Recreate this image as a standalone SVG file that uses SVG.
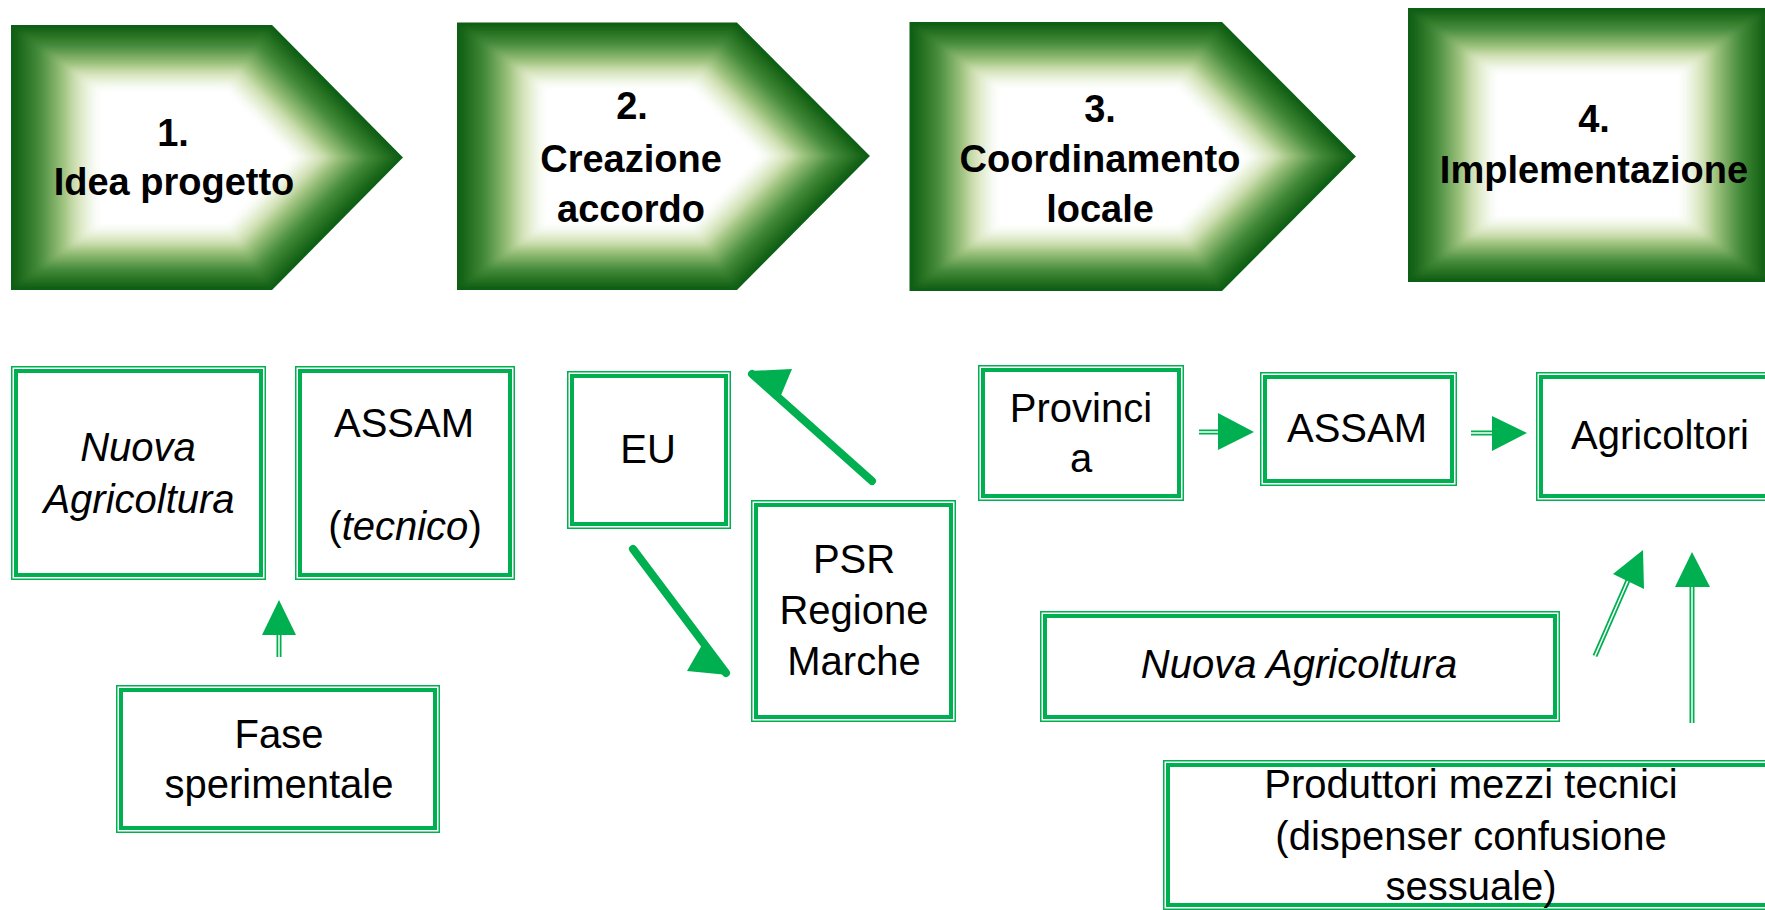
<svg xmlns="http://www.w3.org/2000/svg" xmlns:xlink="http://www.w3.org/1999/xlink" width="1765" height="910" viewBox="0 0 1765 910">
<style>
.o{fill:#fff;stroke:#00b050;stroke-width:1.5}
.i{fill:none;stroke:#00b050;stroke-width:4}
.t{font-family:"Liberation Sans",Arial,sans-serif;font-size:40px;fill:#000;text-anchor:middle}
.it{font-style:italic}
.h{font-family:"Liberation Sans",Arial,sans-serif;font-size:38px;font-weight:bold;fill:#000;text-anchor:middle}
.f{fill:#fff;stroke:none}
.bv use{fill:none;stroke-linejoin:miter}
.b1{stroke:#0f5f12;stroke-width:8}
.b2{stroke:#1a681b;stroke-width:16}
.b3{stroke:#267224;stroke-width:24}
.b4{stroke:#317b2c;stroke-width:32}
.b5{stroke:#3d8435;stroke-width:40}
.b6{stroke:#4a8f3f;stroke-width:48}
.b7{stroke:#5e9b4e;stroke-width:56}
.b8{stroke:#72a85d;stroke-width:64}
.b9{stroke:#86b46c;stroke-width:72}
.b10{stroke:#9ac17c;stroke-width:80}
.b11{stroke:#b0cd90;stroke-width:88}
.b12{stroke:#c7dbac;stroke-width:96}
.b13{stroke:#d8e5be;stroke-width:104}
.b14{stroke:#e3edd0;stroke-width:112}
.b15{stroke:#eef5e5;stroke-width:120}
.b16{stroke:#f8fbf4;stroke-width:128}
.sh{stroke:#00b050;stroke-width:5;fill:none}
.sw{stroke:#fff;stroke-width:1.5;fill:none}
.th{stroke:#00b050;stroke-width:8;stroke-linecap:round;fill:none}
.ah{fill:#00b050;stroke:none}
</style>
<defs>
<filter id="sm" x="-10%" y="-10%" width="120%" height="120%"><feGaussianBlur stdDeviation="2.2"/></filter>
<polygon id="p1" points="8.15,25 201.5,25 298.5,157.5 201.5,290 8.15,290"/>
<polygon id="p2" points="338.5,22.5 545.9,22.5 644.4,156 545.9,290 338.5,290"/>
<polygon id="p3" points="673.7,22 905.2,22 1004.4,156.5 905.2,291 673.7,291"/>
<polygon id="p4" points="1043,8 1309.6,8 1309.6,282 1043,282"/>
<clipPath id="c1"><use xlink:href="#p1"/></clipPath>
<clipPath id="c2"><use xlink:href="#p2"/></clipPath>
<clipPath id="c3"><use xlink:href="#p3"/></clipPath>
<clipPath id="c4"><use xlink:href="#p4"/></clipPath>
</defs>
<rect width="1765" height="910" fill="#fff"/>

<g id="step1">
<g transform="scale(1.35,1)" clip-path="url(#c1)">
<g class="bv" filter="url(#sm)">
<use xlink:href="#p1" class="f"/>
<use xlink:href="#p1" class="b16"/><use xlink:href="#p1" class="b15"/><use xlink:href="#p1" class="b14"/><use xlink:href="#p1" class="b13"/>
<use xlink:href="#p1" class="b12"/><use xlink:href="#p1" class="b11"/><use xlink:href="#p1" class="b10"/><use xlink:href="#p1" class="b9"/>
<use xlink:href="#p1" class="b8"/><use xlink:href="#p1" class="b7"/><use xlink:href="#p1" class="b6"/><use xlink:href="#p1" class="b5"/>
<use xlink:href="#p1" class="b4"/><use xlink:href="#p1" class="b3"/><use xlink:href="#p1" class="b2"/><use xlink:href="#p1" class="b1"/>
</g>
</g>
<text class="h" x="173" y="146">1.</text>
<text class="h" x="174" y="195">Idea progetto</text>
</g>

<g id="step2">
<g transform="scale(1.35,1)" clip-path="url(#c2)">
<g class="bv" filter="url(#sm)">
<use xlink:href="#p2" class="f"/>
<use xlink:href="#p2" class="b16"/><use xlink:href="#p2" class="b15"/><use xlink:href="#p2" class="b14"/><use xlink:href="#p2" class="b13"/>
<use xlink:href="#p2" class="b12"/><use xlink:href="#p2" class="b11"/><use xlink:href="#p2" class="b10"/><use xlink:href="#p2" class="b9"/>
<use xlink:href="#p2" class="b8"/><use xlink:href="#p2" class="b7"/><use xlink:href="#p2" class="b6"/><use xlink:href="#p2" class="b5"/>
<use xlink:href="#p2" class="b4"/><use xlink:href="#p2" class="b3"/><use xlink:href="#p2" class="b2"/><use xlink:href="#p2" class="b1"/>
</g>
</g>
<text class="h" x="632" y="119">2.</text>
<text class="h" x="631" y="172">Creazione</text>
<text class="h" x="631" y="222">accordo</text>
</g>

<g id="step3">
<g transform="scale(1.35,1)" clip-path="url(#c3)">
<g class="bv" filter="url(#sm)">
<use xlink:href="#p3" class="f"/>
<use xlink:href="#p3" class="b16"/><use xlink:href="#p3" class="b15"/><use xlink:href="#p3" class="b14"/><use xlink:href="#p3" class="b13"/>
<use xlink:href="#p3" class="b12"/><use xlink:href="#p3" class="b11"/><use xlink:href="#p3" class="b10"/><use xlink:href="#p3" class="b9"/>
<use xlink:href="#p3" class="b8"/><use xlink:href="#p3" class="b7"/><use xlink:href="#p3" class="b6"/><use xlink:href="#p3" class="b5"/>
<use xlink:href="#p3" class="b4"/><use xlink:href="#p3" class="b3"/><use xlink:href="#p3" class="b2"/><use xlink:href="#p3" class="b1"/>
</g>
</g>
<text class="h" x="1100" y="122">3.</text>
<text class="h" x="1100" y="172">Coordinamento</text>
<text class="h" x="1100" y="222">locale</text>
</g>

<g id="step4">
<g transform="scale(1.35,1)" clip-path="url(#c4)">
<g class="bv" filter="url(#sm)">
<use xlink:href="#p4" class="f"/>
<use xlink:href="#p4" class="b16"/><use xlink:href="#p4" class="b15"/><use xlink:href="#p4" class="b14"/><use xlink:href="#p4" class="b13"/>
<use xlink:href="#p4" class="b12"/><use xlink:href="#p4" class="b11"/><use xlink:href="#p4" class="b10"/><use xlink:href="#p4" class="b9"/>
<use xlink:href="#p4" class="b8"/><use xlink:href="#p4" class="b7"/><use xlink:href="#p4" class="b6"/><use xlink:href="#p4" class="b5"/>
<use xlink:href="#p4" class="b4"/><use xlink:href="#p4" class="b3"/><use xlink:href="#p4" class="b2"/><use xlink:href="#p4" class="b1"/>
</g>
</g>
<text class="h" x="1594" y="132">4.</text>
<text class="h" x="1594" y="183">Implementazione</text>
</g>

<g id="nuova-agricoltura-1">
<rect class="o" x="11.75" y="366.75" width="253.5" height="212.5"/>
<rect class="i" x="16" y="371" width="245" height="204"/>
<text class="t it" x="138" y="461">Nuova</text>
<text class="t it" x="139" y="513">Agricoltura</text>
</g>

<g id="assam-tecnico">
<rect class="o" x="295.75" y="366.75" width="218.5" height="212.5"/>
<rect class="i" x="300" y="371" width="210" height="204"/>
<text class="t" x="404" y="437">ASSAM</text>
<text class="t" x="405" y="540">(<tspan class="it">tecnico</tspan>)</text>
</g>

<g id="fase-sperimentale">
<rect class="o" x="116.75" y="685.75" width="322.5" height="146.5"/>
<rect class="i" x="121" y="690" width="314" height="138"/>
<text class="t" x="279" y="748">Fase</text>
<text class="t" x="279" y="798">sperimentale</text>
</g>

<g id="eu">
<rect class="o" x="567.75" y="371.75" width="162.5" height="156.5"/>
<rect class="i" x="572" y="376" width="154" height="148"/>
<text class="t" x="648" y="463">EU</text>
</g>

<g id="psr">
<rect class="o" x="751.75" y="500.75" width="203.5" height="220.5"/>
<rect class="i" x="756" y="505" width="195" height="212"/>
<text class="t" x="854" y="573">PSR</text>
<text class="t" x="854" y="624">Regione</text>
<text class="t" x="854" y="675">Marche</text>
</g>

<g id="provincia">
<rect class="o" x="978.75" y="365.75" width="204.5" height="134.5"/>
<rect class="i" x="983" y="370" width="196" height="126"/>
<text class="t" x="1081" y="422">Provinci</text>
<text class="t" x="1081" y="472">a</text>
</g>

<g id="assam">
<rect class="o" x="1260.75" y="372.75" width="195.5" height="112.5"/>
<rect class="i" x="1265" y="377" width="187" height="104"/>
<text class="t" x="1357" y="442">ASSAM</text>
</g>

<g id="agricoltori">
<rect class="o" x="1536.75" y="372.75" width="258.5" height="127.5"/>
<rect class="i" x="1541" y="377" width="250" height="119"/>
<text class="t" x="1660" y="449">Agricoltori</text>
</g>

<g id="nuova-agricoltura-2">
<rect class="o" x="1040.75" y="611.75" width="518.5" height="109.5"/>
<rect class="i" x="1045" y="616" width="510" height="101"/>
<text class="t it" x="1299" y="678">Nuova Agricoltura</text>
</g>

<g id="produttori">
<rect class="o" x="1163.75" y="760.75" width="638.5" height="148.5"/>
<rect class="i" x="1168" y="765" width="630" height="140"/>
<text class="t" x="1471" y="798">Produttori mezzi tecnici</text>
<text class="t" x="1471" y="850">(dispenser confusione</text>
<text class="t" x="1471" y="900">sessuale)</text>
</g>

<g id="connectors">
<line class="sh" x1="279" y1="657" x2="279" y2="633"/><line class="sw" x1="279" y1="657" x2="279" y2="633"/>
<polygon class="ah" points="279,600 262,635 296,635"/>
<line class="sh" x1="1199" y1="432" x2="1220" y2="432"/><line class="sw" x1="1199" y1="432" x2="1220" y2="432"/>
<polygon class="ah" points="1254,432 1218,413 1218,450"/>
<line class="sh" x1="1471" y1="433" x2="1494" y2="433"/><line class="sw" x1="1471" y1="433" x2="1494" y2="433"/>
<polygon class="ah" points="1527,433 1492,416 1492,451"/>
<line class="sh" x1="1595" y1="656" x2="1629" y2="578"/><line class="sw" x1="1595" y1="656" x2="1629" y2="578"/>
<polygon class="ah" points="1643,550 1613,574 1644,589"/>
<line class="sh" x1="1692" y1="723" x2="1692" y2="585"/><line class="sw" x1="1692" y1="723" x2="1692" y2="585"/>
<polygon class="ah" points="1692,552 1675,587 1710,587"/>
<line class="th" x1="872" y1="481" x2="752" y2="374"/>
<polygon class="ah" points="750,371 792,369 779,400"/>
<line class="th" x1="633" y1="549" x2="726" y2="673"/>
<polygon class="ah" points="687,671 702,645 728,675"/>
</g>
</svg>
